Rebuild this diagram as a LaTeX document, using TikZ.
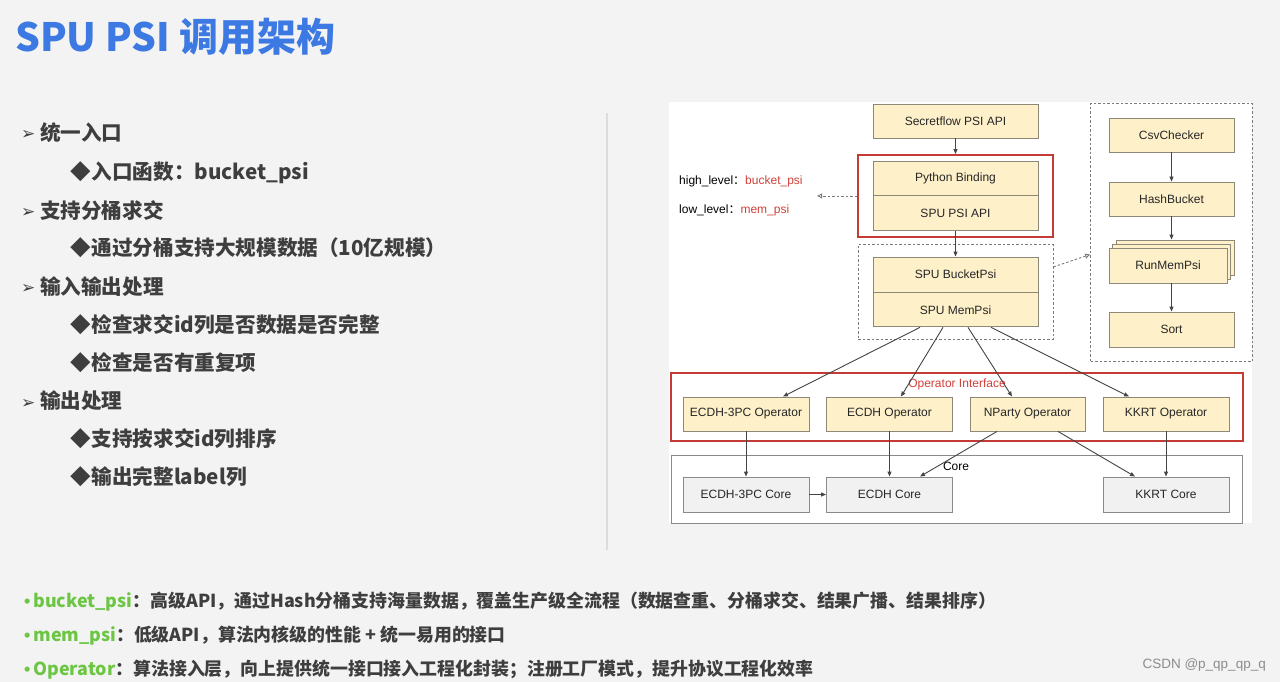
\documentclass[tikz,border=0pt]{standalone}
\usepackage{fontspec}
\setmainfont{Liberation Sans}
\newfontfamily\cjk{Noto Sans CJK SC}
\newfontfamily\dingfont{DejaVu Sans}
\usetikzlibrary{arrows.meta,positioning,fit}
\definecolor{pagegray}{HTML}{F3F3F3}
\definecolor{titleblue}{HTML}{3C79E2}
\definecolor{listink}{HTML}{3E3E3E}
\definecolor{notegreen}{HTML}{6CC644}
\definecolor{boxfill}{HTML}{FEF0C9}
\definecolor{boxline}{HTML}{8E8878}
\definecolor{corefill}{HTML}{F1F1F1}
\definecolor{coreline}{HTML}{8A8A8A}
\definecolor{arrowgray}{HTML}{444444}
\definecolor{dashgray}{HTML}{7A7A7A}
\definecolor{framered}{HTML}{C43A35}
\definecolor{labelred}{HTML}{D0403A}
\definecolor{rulegray}{HTML}{DCDCDC}
\newcommand{\diagfont}{\fontsize{12}{14}\selectfont}
\tikzset{
  layerbox/.style={
    rectangle, draw=boxline, fill=boxfill, line width=0.9pt,
    minimum width=165pt, minimum height=34pt, inner sep=0pt,
    font=\diagfont, text=black!85
  },
  stepbox/.style={layerbox, minimum width=125pt},
  opbox/.style={layerbox, minimum width=126pt, minimum height=34pt},
  corebox/.style={opbox, fill=corefill, draw=coreline, minimum height=35pt},
  flowarrow/.style={-{Triangle[length=5pt,width=4pt]}, line width=0.9pt, color=arrowgray},
  hintarrow/.style={-{Triangle[open,length=5pt,width=5pt]}, line width=0.9pt,
    color=dashgray, dash pattern=on 2.5pt off 2pt},
  groupbox/.style={draw=dashgray, line width=0.9pt, dash pattern=on 2.5pt off 2pt},
  redframe/.style={draw=framered, line width=2pt},
  headline/.style={inner sep=0pt, font=\cjk\bfseries\fontsize{20.6}{24}\selectfont, text=listink},
  noteline/.style={inner sep=0pt, font=\cjk\bfseries\fontsize{17.9}{20}\selectfont, text=listink},
}

\begin{document}
\begin{tikzpicture}[x=1pt,y=-1pt]
  \fill[pagegray] (0,0) rectangle (1280,682);
  \fill[white] (669,102) rectangle (1252,523);

  % title and bullet list
  \node[anchor=base west, inner sep=0pt, font=\cjk\bfseries\fontsize{39}{44}\selectfont, text=titleblue]
    (title) at (15,52) {SPU PSI 调用架构};
  \foreach \y/\t [count=\i] in {140.5/统一入口, 218/支持分桶求交, 294/输入输出处理, 408.5/输出处理}
    \node[headline, anchor=base west] (head\i) at (21,\y)
      {\makebox[19pt][l]{\raisebox{0.5pt}{\dingfont\mdseries\fontsize{17}{17}\selectfont ➢}}\t};
  \foreach \y/\t [count=\i] in {179/入口函数：bucket\_psi, 255.5/通过分桶支持大规模数据（10亿规模）,
      332/检查求交id列是否数据是否完整, 370/检查是否有重复项, 446/支持按求交id列排序, 484/输出完整label列}
    \node[headline, anchor=base west] (item\i) at (70,\y) {\makebox[21.5pt][l]{◆}\t};
  \draw[rulegray, line width=1.5pt] (607,113) coordinate (ruletop) -- (607,550) coordinate (rulebot);

  % api layers
  \node[layerbox] (sfapi) at (955.5,121) {Secretflow PSI API};
  \node[layerbox] (pybind) at (955.5,178) {Python Binding};
  \node[layerbox, below=0pt of pybind, minimum height=35pt] (spuapi) {SPU PSI API};
  \node[redframe, fit=(pybind)(spuapi), inner xsep=14.5pt, inner ysep=5.5pt] (apiframe) {};
  \node[layerbox, minimum height=35pt] (bucketpsi) at (955.5,274.5) {SPU BucketPsi};
  \node[layerbox, below=0pt of bucketpsi] (mempsi) {SPU MemPsi};
  \node[groupbox, fit=(bucketpsi)(mempsi), inner xsep=14.5pt, inner ysep=12pt] (psiframe) {};

  \node[anchor=west, inner sep=0pt, font=\diagfont] (highlbl) at (679,181)
    {high\_level{\cjk：}\textcolor{labelred}{bucket\_psi}};
  \node[anchor=west, inner sep=0pt, font=\diagfont] (lowlbl) at (679,210.5)
    {low\_level{\cjk：}\textcolor{labelred}{mem\_psi}};
  \coordinate (hinttip) at ([xshift=-40pt]apiframe.west);

  % bucket flow
  \node[stepbox] (csv) at (1171.5,135) {CsvChecker};
  \node[stepbox] (hashb) at (1171.5,199) {HashBucket};
  \node[stepbox, minimum width=118pt, minimum height=35pt] (rmpB) at (1175,257.5) {};
  \node[stepbox, minimum width=118pt, minimum height=35pt] (rmpA) at (1171.5,261.5) {};
  \node[stepbox, minimum width=118pt, minimum height=35pt] (rmp) at (1168,265.5) {RunMemPsi};
  \node[stepbox, minimum height=35pt] (sort) at (1171.5,329.5) {Sort};
  \node[groupbox, fit=(csv)(sort)(rmpB), inner xsep=18pt, inner ysep=14pt] (stepframe) {};

  % operators and cores
  \node[redframe, minimum width=572pt, minimum height=68pt] (opframe) at (957,407) {};
  \node[font=\diagfont, text=labelred, inner sep=0pt] (oplbl) at (957,384.5) {Operator Interface};
  \node[opbox] (ecdh3op) at (746,414) {ECDH-3PC Operator};
  \node[opbox] (ecdhop) at (889.5,414) {ECDH Operator};
  \node[opbox, minimum width=115pt] (npop) at (1027.5,414) {NParty Operator};
  \node[opbox] (kkrtop) at (1166,414) {KKRT Operator};

  \node[draw=coreline, line width=0.9pt, fill=white, minimum width=571pt, minimum height=68pt]
    (coreframe) at (956.5,489) {};
  \node[font=\diagfont, inner sep=0pt] (corelbl) at (956,466) {Core};
  \node[corebox] (ecdh3core) at (746,494.5) {ECDH-3PC Core};
  \node[corebox] (ecdhcore) at (889.5,494.5) {ECDH Core};
  \node[corebox] (kkrtcore) at (1166,494.5) {KKRT Core};

  % connectors
  \draw[flowarrow] (sfapi) -- (apiframe.north);
  \draw[flowarrow] (spuapi) -- (bucketpsi);
  \draw[hintarrow] (apiframe.west) -- (hinttip);
  \draw[hintarrow] ([yshift=25pt]psiframe.east) -- ([yshift=-22pt]stepframe.west);
  \foreach \a/\b in {csv/hashb,ecdh3op/ecdh3core,ecdhop/ecdhcore,kkrtop/kkrtcore,ecdh3core/ecdhcore}
    \draw[flowarrow] (\a) -- (\b);
  \draw[flowarrow] (hashb) -- (hashb.south |- rmpB.north);
  \draw[flowarrow] (sort.north |- rmp.south) -- (sort);
  \foreach \s/\t/\o in {-35.5/ecdh3op/37, -12.5/ecdhop/11.5, 12.5/npop/-15.5, 35.5/kkrtop/-37}
    \draw[flowarrow] ([xshift=\s pt]mempsi.south) -- ([xshift=\o pt]\t.north);
  \draw[flowarrow] ([xshift=-30.5pt]npop.south) -- ([xshift=30.5pt]ecdhcore.north);
  \draw[flowarrow] ([xshift=30.5pt]npop.south) -- ([xshift=-31pt]kkrtcore.north);

  % notes
  \node[noteline, anchor=base west] (note1) at (24,607.5)
    {\textcolor{notegreen}{\fontspec{Liberation Sans}•\,\cjk bucket\_psi}：高级API，通过Hash分桶支持海量数据，覆盖生产级全流程（数据查重、分桶求交、结果广播、结果排序）};
  \node[noteline, anchor=base west] (note2) at (24,641.5)
    {\textcolor{notegreen}{\fontspec{Liberation Sans}•\,\cjk mem\_psi}：低级API，算法内核级的性能 + 统一易用的接口};
  \node[noteline, anchor=base west] (note3) at (24,675.5)
    {\textcolor{notegreen}{\fontspec{Liberation Sans}•\,\cjk Operator}：算法接入层，向上提供统一接口接入工程化封装；注册工厂模式，提升协议工程化效率};
  \node[anchor=base east, inner sep=0pt, font=\fontsize{13.5}{15}\selectfont, text=black!45]
    (mark) at (1266,668) {CSDN @p\_qp\_qp\_q};
\end{tikzpicture}
\end{document}
